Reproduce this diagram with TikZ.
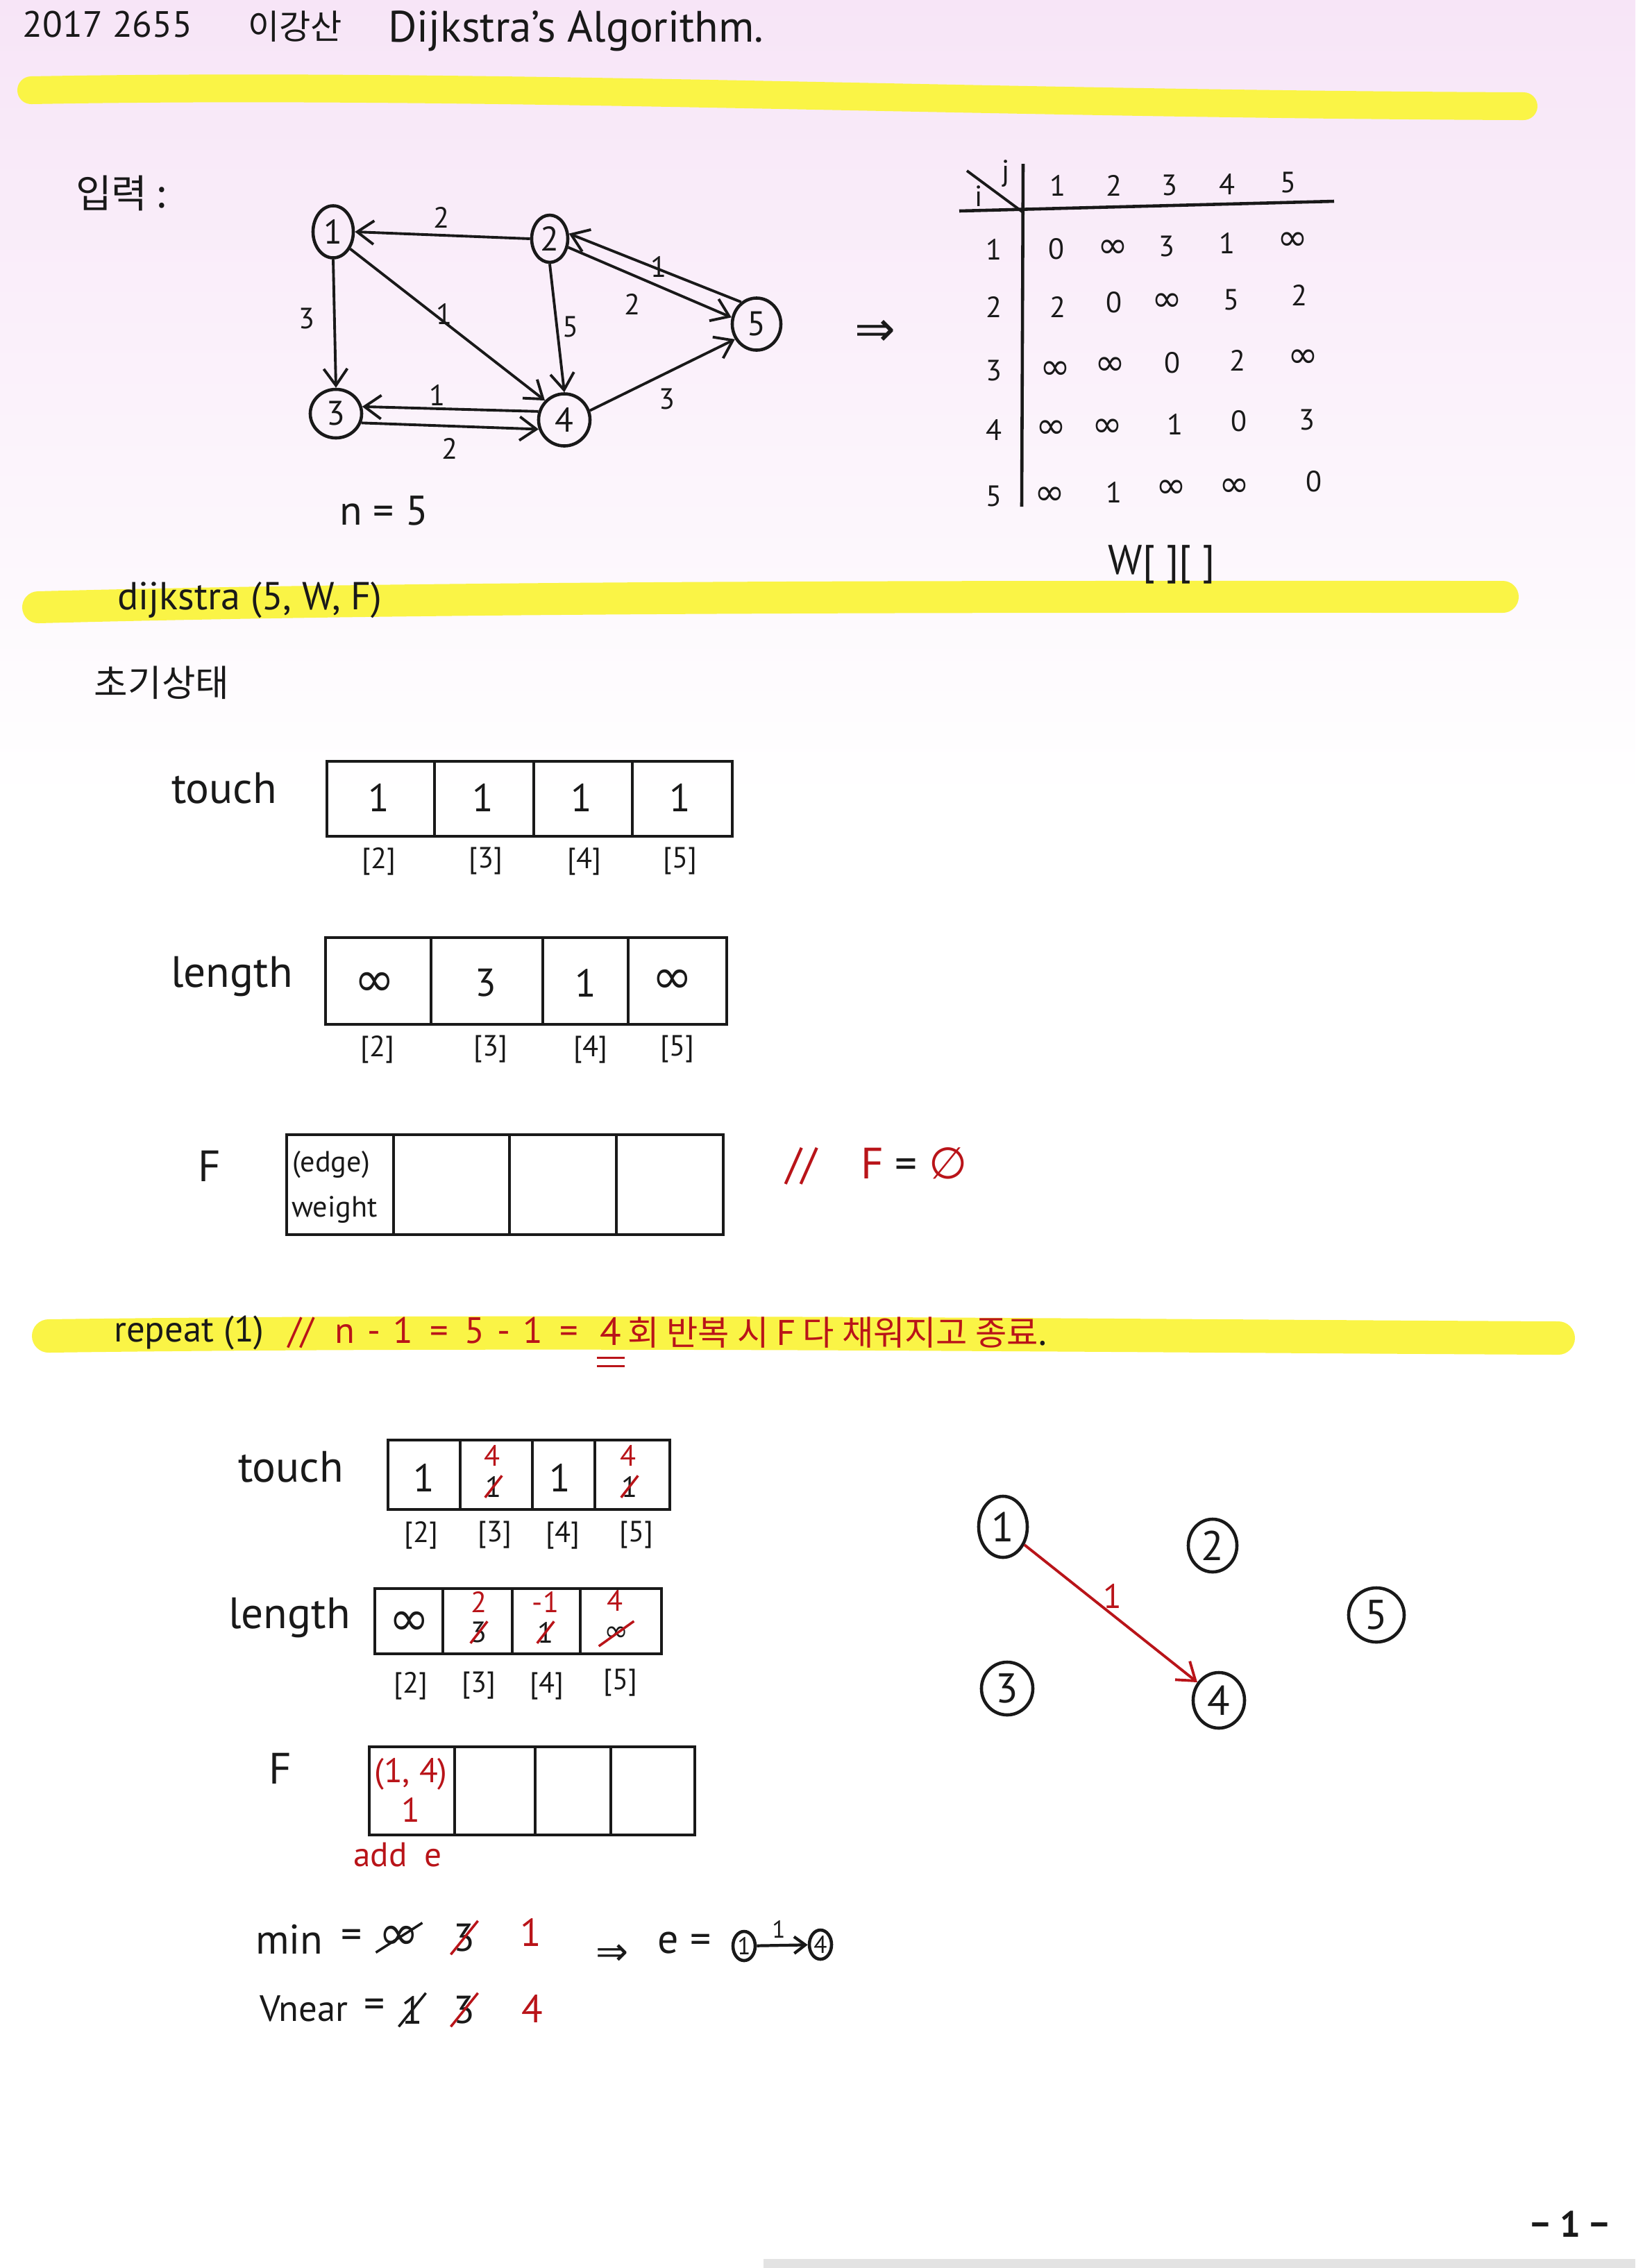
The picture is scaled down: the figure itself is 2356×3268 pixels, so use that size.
\documentclass[tikz,border=0pt]{standalone}
\usepackage{fontspec}
\usepackage{graphicx}
\setmainfont{PT Sans}
\newfontfamily\kr{Noto Sans CJK KR}
\newfontfamily\sym{DejaVu Sans}
\usetikzlibrary{shapes.geometric,arrows.meta}
\definecolor{ink}{RGB}{25,25,25}
\definecolor{rink}{RGB}{185,20,25}
\definecolor{hl}{RGB}{250,244,70}
\definecolor{pinkbg}{RGB}{247,229,247}
\newcommand\infy{{\sym\scalebox{1.25}{∞}}}
\newcommand\sinfy{{\sym ∞}}
\tikzset{
  every node/.style={inner sep=1pt, text=ink},
  gn/.style={ellipse, draw=ink, line width=1.3pt, inner sep=0pt, font=\fontsize{14}{16}\selectfont},
  arr/.style={draw=ink, line width=1.1pt, -{Straight Barb[length=2.4mm,width=3.4mm]}},
  wl/.style={font=\fontsize{12}{14}\selectfont},
  mt/.style={font=\fontsize{12}{14}\selectfont},
  box/.style={draw=ink, line width=1.4pt},
  val/.style={font=\fontsize{16}{18}\selectfont},
  sval/.style={font=\fontsize{12}{13}\selectfont, inner sep=0pt},
  ix/.style={font=\fontsize{12}{14}\selectfont},
  lb/.style={font=\fontsize{18}{20}\selectfont},
  rd/.style={text=rink},
  strike/.style={draw=rink, line width=1pt},
  hlband/.style={draw=hl, line cap=round},
}
\begin{document}
\begin{tikzpicture}[x=0.01cm,y=-0.01cm]
\fill[white] (0,0) rectangle (2356,3268);
\shade[top color=pinkbg, bottom color=white] (0,0) rectangle (2356,1150);
\fill[gray!22] (1100,3255) rectangle (2356,3268);
\useasboundingbox (0,0) rectangle (2356,3268);

% highlighter bands
\draw[hlband, line width=0.40cm] (45,130) .. controls (700,118) and (1400,150) .. (2195,153);
\draw[hlband, line width=0.46cm] (55,875) .. controls (700,858) and (1500,860) .. (2165,860);
\draw[hlband, line width=0.48cm] (70,1925) .. controls (800,1915) and (1600,1925) .. (2245,1928);

% title
\node[font=\fontsize{15}{18}\selectfont] (sid) at (155,35) {2017 2655};
\node[font={\kr\fontsize{14}{18}\selectfont}] (snm) at (425,38) {이강산};
\node[font=\fontsize{18}{22}\selectfont] (ttl) at (830,45) {Dijkstra's Algorithm.};

% input graph
\node[font={\kr\fontsize{16}{20}\selectfont}] (inp) at (175,278) {입력 :};
\node[gn, minimum width=0.58cm, minimum height=0.75cm] (g1) at (480,334) {1};
\node[gn, minimum width=0.52cm, minimum height=0.68cm] (g2) at (792,344) {2};
\node[gn, minimum width=0.70cm, minimum height=0.75cm] (g5) at (1090,467) {5};
\node[gn, minimum width=0.74cm, minimum height=0.70cm] (g3) at (484,596) {3};
\node[gn, minimum width=0.74cm, minimum height=0.75cm] (g4) at (813,605) {4};

\draw[arr] (g2.west) -- (g1.east);
\draw[arr] (g1.south) -- (g3.north);
\draw[arr] (g1.-45) -- (g4.135);
\draw[arr] (g2.south) -- (g4.north);
\draw[arr] (g5.125) -- (g2.15);
\draw[arr] (g2.-25) -- (g5.165);
\draw[arr] (g4.162) -- (g3.15);
\draw[arr] (g3.-20) -- (g4.-160);
\draw[arr] (g4.20) -- (g5.215);

\node[wl] (w21) at (636,313) {2};
\node[wl] (w13) at (442,459) {3};
\node[wl] (w14) at (640,452) {1};
\node[wl] (w24) at (822,471) {5};
\node[wl] (w25) at (911,438) {2};
\node[wl] (w52) at (949,384) {1};
\node[wl] (w43) at (630,569) {1};
\node[wl] (w34) at (648,646) {2};
\node[wl] (w45) at (961,575) {3};
\node[font=\fontsize{17}{20}\selectfont] (nn) at (553,736) {n = 5};
\node[font={\sym\fontsize{20}{22}\selectfont}] (imp1) at (1261,480) {⇒};

% matrix W
\draw[line width=1.3pt, ink] (1474,236) -- (1472,730);
\draw[line width=1.3pt, ink] (1382,304) -- (1922,290);
\draw[line width=1.1pt, ink] (1393,246) -- (1474,306);
\node[mt] (mi) at (1410,283) {i};
\node[mt] (mj) at (1449,250) {j};
\node[mt] (c1) at (1524,267) {1};
\node[mt] (c2) at (1605,267) {2};
\node[mt] (c3) at (1685,267) {3};
\node[mt] (c4) at (1768,265) {4};
\node[mt] (c5) at (1856,263) {5};
\node[mt] (r1) at (1432,359) {1};
\node[mt] (r2) at (1432,442) {2};
\node[mt] (r3) at (1432,534) {3};
\node[mt] (r4) at (1432,619) {4};
\node[mt] (r5) at (1432,715) {5};
\node[mt] (m11) at (1522,359) {0};
\node[mt] (m12) at (1603,359) {\infy};
\node[mt] (m13) at (1681,355) {3};
\node[mt] (m14) at (1768,350) {1};
\node[mt] (m15) at (1862,348) {\infy};
\node[mt] (m21) at (1524,442) {2};
\node[mt] (m22) at (1605,436) {0};
\node[mt] (m23) at (1681,436) {\infy};
\node[mt] (m24) at (1774,432) {5};
\node[mt] (m25) at (1872,425) {2};
\node[mt] (m31) at (1520,534) {\infy};
\node[mt] (m32) at (1599,528) {\infy};
\node[mt] (m33) at (1689,523) {0};
\node[mt] (m34) at (1783,519) {2};
\node[mt] (m35) at (1877,517) {\infy};
\node[mt] (m41) at (1514,619) {\infy};
\node[mt] (m42) at (1595,617) {\infy};
\node[mt] (m43) at (1693,611) {1};
\node[mt] (m44) at (1785,607) {0};
\node[mt] (m45) at (1883,605) {3};
\node[mt] (m51) at (1512,715) {\infy};
\node[mt] (m52) at (1605,709) {1};
\node[mt] (m53) at (1687,705) {\infy};
\node[mt] (m54) at (1778,703) {\infy};
\node[mt] (m55) at (1893,694) {0};
\node[font=\fontsize{17}{20}\selectfont] (wname) at (1674,813) {W[ ][ ]};

% dijkstra call
\node[font=\fontsize{16}{20}\selectfont] (call) at (360,865) {dijkstra (5, W, F)};
\node[font={\kr\fontsize{15}{18}\selectfont}] (init) at (233,984) {초기상태};

% initial touch
\node[lb] (tl1) at (323,1136) {touch};
\draw[box] (471,1097) rectangle (1055,1205);
\draw[box] (626,1097) -- (626,1205) (769,1097) -- (769,1205) (911,1097) -- (911,1205);
\node[val] (t12) at (546,1149) {1};
\node[val] (t13) at (696,1149) {1};
\node[val] (t14) at (838,1149) {1};
\node[val] (t15) at (980,1149) {1};
\node[ix] (ti12) at (546,1241) {[2]};
\node[ix] (ti13) at (700,1241) {[3]};
\node[ix] (ti14) at (842,1241) {[4]};
\node[ix] (ti15) at (980,1241) {[5]};

% initial length
\node[lb] (ll1) at (334,1407) {length};
\draw[box] (469,1351) rectangle (1047,1476);
\draw[box] (621,1351) -- (621,1476) (782,1351) -- (782,1476) (905,1351) -- (905,1476);
\node[val] (l12) at (540,1418) {\infy};
\node[val] (l13) at (700,1416) {3};
\node[val] (l14) at (844,1416) {1};
\node[val] (l15) at (969,1414) {\infy};
\node[ix] (li12) at (544,1512) {[2]};
\node[ix] (li13) at (707,1512) {[3]};
\node[ix] (li14) at (851,1512) {[4]};
\node[ix] (li15) at (976,1512) {[5]};

% initial F
\node[lb] (fl1) at (302,1680) {F};
\draw[box] (413,1635) rectangle (1042,1779);
\draw[box] (567,1635) -- (567,1779) (734,1635) -- (734,1779) (888,1635) -- (888,1779);
\node[font=\fontsize{12}{14}\selectfont] (fe) at (477,1678) {(edge)};
\node[font=\fontsize{12}{14}\selectfont] (fw) at (482,1743) {weight};
\node[font=\fontsize{18}{20}\selectfont] (fempty) at (1263,1680) {{\color{rink}//\quad F} = {\color{rink}\sym ∅}};

% repeat line
\node[font=\fontsize{15}{18}\selectfont, anchor=west] (rep) at (160,1920) {repeat (1)};
\node[font=\fontsize{15}{18}\selectfont, anchor=west, rd] (rc1) at (411,1920) {//\hspace{0.3cm}n\hspace{0.18cm}-\hspace{0.18cm}1\hspace{0.24cm}=\hspace{0.24cm}5\hspace{0.18cm}-\hspace{0.18cm}1\hspace{0.24cm}=};
\node[font=\fontsize{16}{18}\selectfont, rd] (rc4) at (880,1918) {4};
\draw[rink, line width=1pt] ([yshift=-4pt]rc4.south west) -- ([yshift=-4pt]rc4.south east);
\draw[rink, line width=1pt] ([yshift=-7.5pt]rc4.south west) -- ([yshift=-7.5pt]rc4.south east);
\node[font={\kr\fontsize{14}{18}\selectfont}, anchor=west, rd] (rc2) at (900,1920) {회 반복 시 F 다 채워지고 종료{\color{ink}.}};

% step 1 touch
\node[lb] (tl2) at (419,2114) {touch};
\draw[box] (559,2075) rectangle (965,2175);
\draw[box] (663,2075) -- (663,2175) (767,2075) -- (767,2175) (857,2075) -- (857,2175);
\node[val] (t22) at (611,2129) {1};
\node[val] (t24) at (807,2129) {1};
\node[sval] (t23) at (711,2142) {1};
\node[sval] (t25) at (907,2142) {1};
\draw[strike] (t23.south west) -- (t23.north east);
\draw[strike] (t25.south west) -- (t25.north east);
\node[sval, rd] (t23n) at (709,2097) {4};
\node[sval, rd] (t25n) at (905,2097) {4};
\node[ix] (ti22) at (607,2212) {[2]};
\node[ix] (ti23) at (713,2212) {[3]};
\node[ix] (ti24) at (811,2212) {[4]};
\node[ix] (ti25) at (917,2212) {[5]};

% step 1 length
\node[lb] (ll2) at (417,2331) {length};
\draw[box] (540,2289) rectangle (953,2383);
\draw[box] (638,2289) -- (638,2383) (738,2289) -- (738,2383) (836,2289) -- (836,2383);
\node[val] (l22) at (590,2339) {\infy};
\node[sval] (l23) at (690,2352) {3};
\node[sval] (l24) at (786,2352) {1};
\node[sval] (l25) at (888,2354) {\sinfy};
\draw[strike] (l23.south west) -- (l23.north east);
\draw[strike] (l24.south west) -- (l24.north east);
\draw[strike] ([xshift=-2pt,yshift=-2pt]l25.south west) -- ([xshift=2pt,yshift=2pt]l25.north east);
\node[sval, rd] (l23n) at (690,2308) {2};
\node[sval, rd] (l24n) at (786,2308) {-1};
\node[sval, rd] (l25n) at (886,2306) {4};
\node[ix] (li22) at (592,2429) {[2]};
\node[ix] (li23) at (690,2429) {[3]};
\node[ix] (li24) at (788,2429) {[4]};
\node[ix] (li25) at (894,2425) {[5]};

% step 1 F
\node[lb] (fl2) at (404,2548) {F};
\draw[box] (532,2517) rectangle (1001,2644);
\draw[box] (655,2517) -- (655,2644) (771,2517) -- (771,2644) (880,2517) -- (880,2644);
\node[font=\fontsize{14}{16}\selectfont, rd] (f2e) at (592,2556) {(1, 4)};
\node[font=\fontsize{14}{16}\selectfont, rd] (f2w) at (592,2608) {1};
\node[font=\fontsize{14}{16}\selectfont, rd] (adde) at (573,2673) {add\enspace e};

% step 1 graph
\node[gn, minimum width=0.70cm, minimum height=0.88cm, font=\fontsize{17}{20}\selectfont] (h1) at (1445,2200) {1};
\node[gn, minimum width=0.70cm, minimum height=0.76cm, font=\fontsize{17}{20}\selectfont] (h2) at (1747,2227) {2};
\node[gn, minimum width=0.80cm, minimum height=0.78cm, font=\fontsize{17}{20}\selectfont] (h5) at (1983,2327) {5};
\node[gn, minimum width=0.74cm, minimum height=0.76cm, font=\fontsize{17}{20}\selectfont] (h3) at (1451,2433) {3};
\node[gn, minimum width=0.74cm, minimum height=0.80cm, font=\fontsize{17}{20}\selectfont] (h4) at (1756,2450) {4};
\draw[arr, draw=rink] (h1.-40) -- (h4.140);
\node[font=\fontsize{14}{16}\selectfont, rd] (h14) at (1603,2300) {1};

% min / vnear
\node[font=\fontsize{17}{20}\selectfont] (minl) at (417,2794) {min};
\node[font=\fontsize{17}{20}\selectfont] (mineq) at (507,2794) {=};
\node[val] (min1) at (575,2792) {\infy};
\node[val] (min2) at (669,2792) {3};
\node[val, rd] (min3) at (765,2784) {1};
\draw[ink, line width=1pt] (min1.south west) -- (min1.north east);
\draw[strike] (min2.south west) -- (min2.north east);
\node[font=\fontsize{15}{18}\selectfont] (vnl) at (438,2894) {Vnear};
\node[font=\fontsize{17}{20}\selectfont] (vneq) at (540,2894) {=};
\node[val] (vn1) at (594,2896) {1};
\node[val] (vn2) at (669,2896) {3};
\node[val, rd] (vn3) at (767,2894) {4};
\draw[ink, line width=1pt] (vn1.south west) -- (vn1.north east);
\draw[strike] (vn2.south west) -- (vn2.north east);
\node[font={\sym\fontsize{16}{18}\selectfont}] (imp2) at (882,2817) {⇒};
\node[font=\fontsize{17}{20}\selectfont] (eeq) at (986,2800) {e =};
\node[gn, minimum width=0.32cm, minimum height=0.42cm, font=\fontsize{10}{12}\selectfont] (e1) at (1072,2804) {1};
\node[gn, minimum width=0.32cm, minimum height=0.42cm, font=\fontsize{10}{12}\selectfont] (e4) at (1182,2802) {4};
\draw[arr, line width=1.2pt, -{Straight Barb[length=1.6mm,width=2.4mm]}] (e1) -- (e4);
\node[font=\fontsize{10}{12}\selectfont] (e14) at (1122,2780) {1};

% page number
\node[font=\bfseries\fontsize{15}{18}\selectfont] (pg) at (2262,3205) {− 1 −};
\end{tikzpicture}
\end{document}
